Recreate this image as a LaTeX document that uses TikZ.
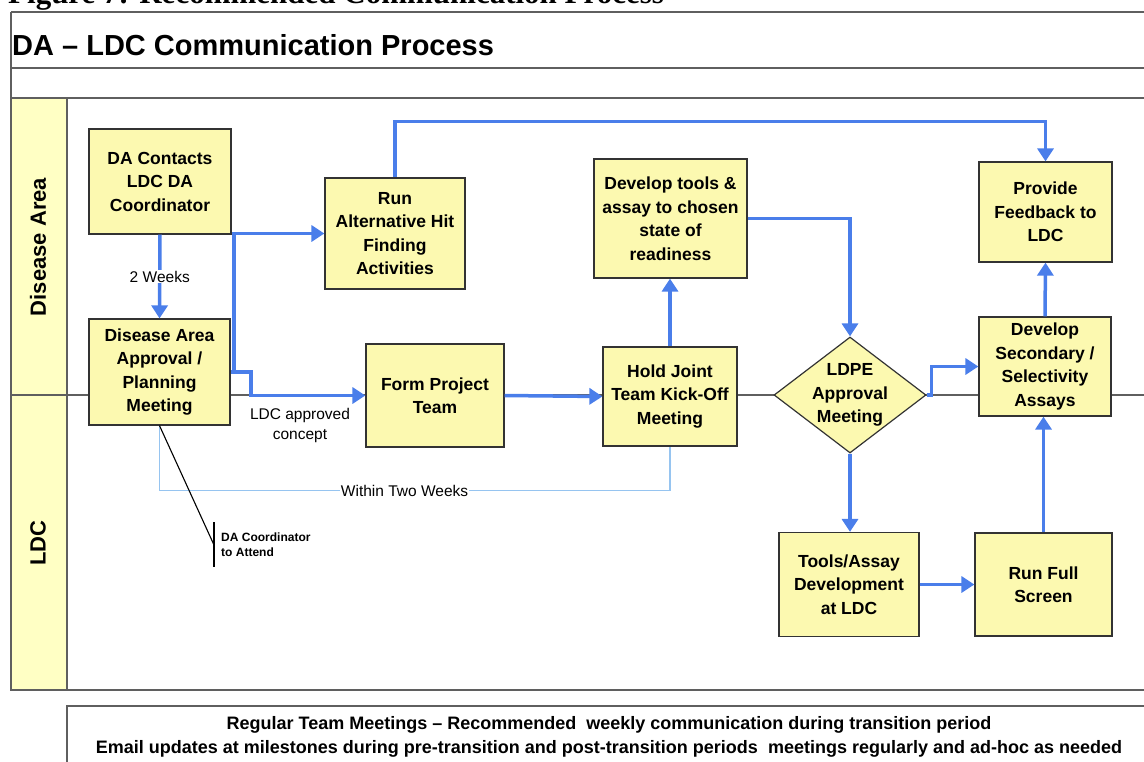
\documentclass[tikz,border=0pt]{standalone}
\usepackage{fontspec}
\setmainfont{Liberation Sans}
\newfontfamily\capfont{Liberation Serif}
\usetikzlibrary{arrows.meta,shapes.geometric,positioning}
\definecolor{flowblue}{RGB}{74,126,234}
\definecolor{paleblue}{RGB}{150,196,240}
\definecolor{boxyellow}{RGB}{252,249,176}
\definecolor{laneyellow}{RGB}{255,255,196}
\definecolor{framegray}{RGB}{95,95,95}
\tikzset{
	frame/.style={draw=framegray, line width=1.3pt},
	stepbox/.style={draw=black!80, fill=boxyellow, line width=1.2pt, align=center, inner sep=0pt, font=\bfseries\fontsize{17.5}{23.5}\selectfont},
	steptext/.style={align=center, inner sep=0pt, font=\bfseries\fontsize{17.5}{23.5}\selectfont},
	flow/.style={draw=flowblue, line width=3.5pt, -{Triangle[length=13pt,width=16pt]}},
	paleline/.style={draw=paleblue, line width=1.1pt},
	callout/.style={draw=black, line width=1.1pt},
	note/.style={align=center, inner sep=1pt, font=\fontsize{15.5}{20}\selectfont},
	lanelabel/.style={inner sep=0pt, font=\bfseries\fontsize{22}{22}\selectfont},
	footline/.style={anchor=base, inner sep=0pt, font=\bfseries\fontsize{18}{18}\selectfont}
}
\begin{document}
\begin{tikzpicture}[x=1pt,y=-1pt]
			%%%%% START %%%%%
			\clip (0,0) rectangle (1144,761);
			
			\node[anchor=base west, inner sep=0pt, font=\capfont\bfseries\fontsize{31}{31}\selectfont] (figcaption) at (8,3) {Figure 7: Recommended Communication Process};
			
			% frame and lanes
			\draw[frame] (11,12) -- (1150,12);
			\draw[frame] (11,68) -- (1150,68);
			\draw[frame] (11,12) -- (11,690);
			\draw[frame, fill=laneyellow] (11,98) rectangle (67,690);
			\draw[frame] (67,98) -- (1150,98);
			\draw[frame] (11,395) -- (1150,395);
			\draw[frame] (11,690) -- (1150,690);
			
			\node[anchor=base west, inner sep=0pt, font=\bfseries\fontsize{29}{29}\selectfont] (title) at (12,55) {DA – LDC Communication Process};
			
			\node[lanelabel, rotate=90] (laneda) at (38,247) {Disease Area};
			\node[lanelabel, rotate=90] (laneldc) at (38,543) {LDC};
			
			% steps
			\node[stepbox, minimum width=142pt, minimum height=105pt] (contact) at (160,181.5) {DA Contacts\\LDC DA\\Coordinator};
			\node[stepbox, minimum width=141pt, minimum height=106pt] (approval) at (159.5,372) {Disease Area\\Approval /\\Planning\\Meeting};
			\node[stepbox, minimum width=140pt, minimum height=111pt] (runalt) at (395,233.5) {Run\\Alternative Hit\\Finding\\Activities};
			\node[stepbox, minimum width=138pt, minimum height=103pt] (formteam) at (435,395.5) {Form Project\\Team};
			\node[stepbox, minimum width=153pt, minimum height=119pt] (devtools) at (670.5,218.5) {Develop tools \&\\assay to chosen\\state of\\readiness};
			\node[stepbox, minimum width=134pt, minimum height=99pt] (kickoff) at (670,396.5) {Hold Joint\\Team Kick-Off\\Meeting};
			\node[diamond, draw=black!80, fill=boxyellow, line width=1.2pt, inner sep=0pt, minimum width=152pt, minimum height=116pt] (ldpe) at (850,395) {};
			\node[steptext] (ldpetext) at (850,395) {LDPE\\Approval\\Meeting};
			\node[stepbox, minimum width=133pt, minimum height=100pt] (feedback) at (1045.5,212) {Provide\\Feedback to\\LDC};
			\node[stepbox, minimum width=132pt, minimum height=99pt] (secondary) at (1045,366.5) {Develop\\Secondary /\\Selectivity\\Assays};
			\node[stepbox, minimum width=140pt, minimum height=104pt] (toolsdev) at (849,584.5) {Tools/Assay\\Development\\at LDC};
			\node[stepbox, minimum width=137pt, minimum height=103pt] (fullscreen) at (1043.5,584.5) {Run Full\\Screen};
			
			% connectors
			\draw[flow] (contact.south) -- node[note, fill=white] (twoweeks) {2 Weeks} (approval.north);
			\draw[flow] (approval.east) -- ++(3.5,0) coordinate (fork) |- (runalt.west);
			\draw[flow] (fork) -- ++(17,0) |- (formteam.west);
			\node[note] (approved) at (300,425) {LDC approved\\concept};
			\draw[flow] (runalt.north) -- ++(0,-56) -| (feedback.north);
			\draw[flow] (formteam.east) -- (kickoff.west);
			\draw[flow] (kickoff.north) -- (kickoff.north |- devtools.south);
			\draw[flow] (devtools.east) -| (ldpe.north);
			\draw[flow] (ldpe.east) -- ++(5,0) |- (secondary.west);
			\draw[flow] (ldpe.south) -- (ldpe.south |- toolsdev.north);
			\draw[flow] (toolsdev.east) -- (fullscreen.west);
			\draw[flow] (fullscreen.north) -- (fullscreen.north |- secondary.south);
			\draw[flow] (secondary.north) -- (feedback.south);
			
			\draw[paleline] (approval.south) -- ++(0,65) -| (kickoff.south) node[note, pos=0.24, fill=white] (withintwo) {Within Two Weeks};
			
			\coordinate (attend) at (214,545);
			\draw[callout] (approval.south) -- (attend);
			\draw[callout] (attend) ++(0,-23) -- ++(0,45);
			\node[right=7pt of attend, align=left, inner sep=0pt, font=\bfseries\fontsize{12}{15}\selectfont] (attendnote) {DA Coordinator\\to Attend};
			
			% footer
			\draw[frame, line width=1.1pt] (67,706) rectangle (1160,780);
			\node[footline] (meetings) at (609,729) {Regular Team Meetings – Recommended \ weekly communication during transition period};
			\node[footline] (emails) at (609,753) {Email updates at milestones during pre-transition and post-transition periods \ meetings regularly and ad-hoc as needed};
			
			%%%%% END %%%%%
\end{tikzpicture}
\end{document}
